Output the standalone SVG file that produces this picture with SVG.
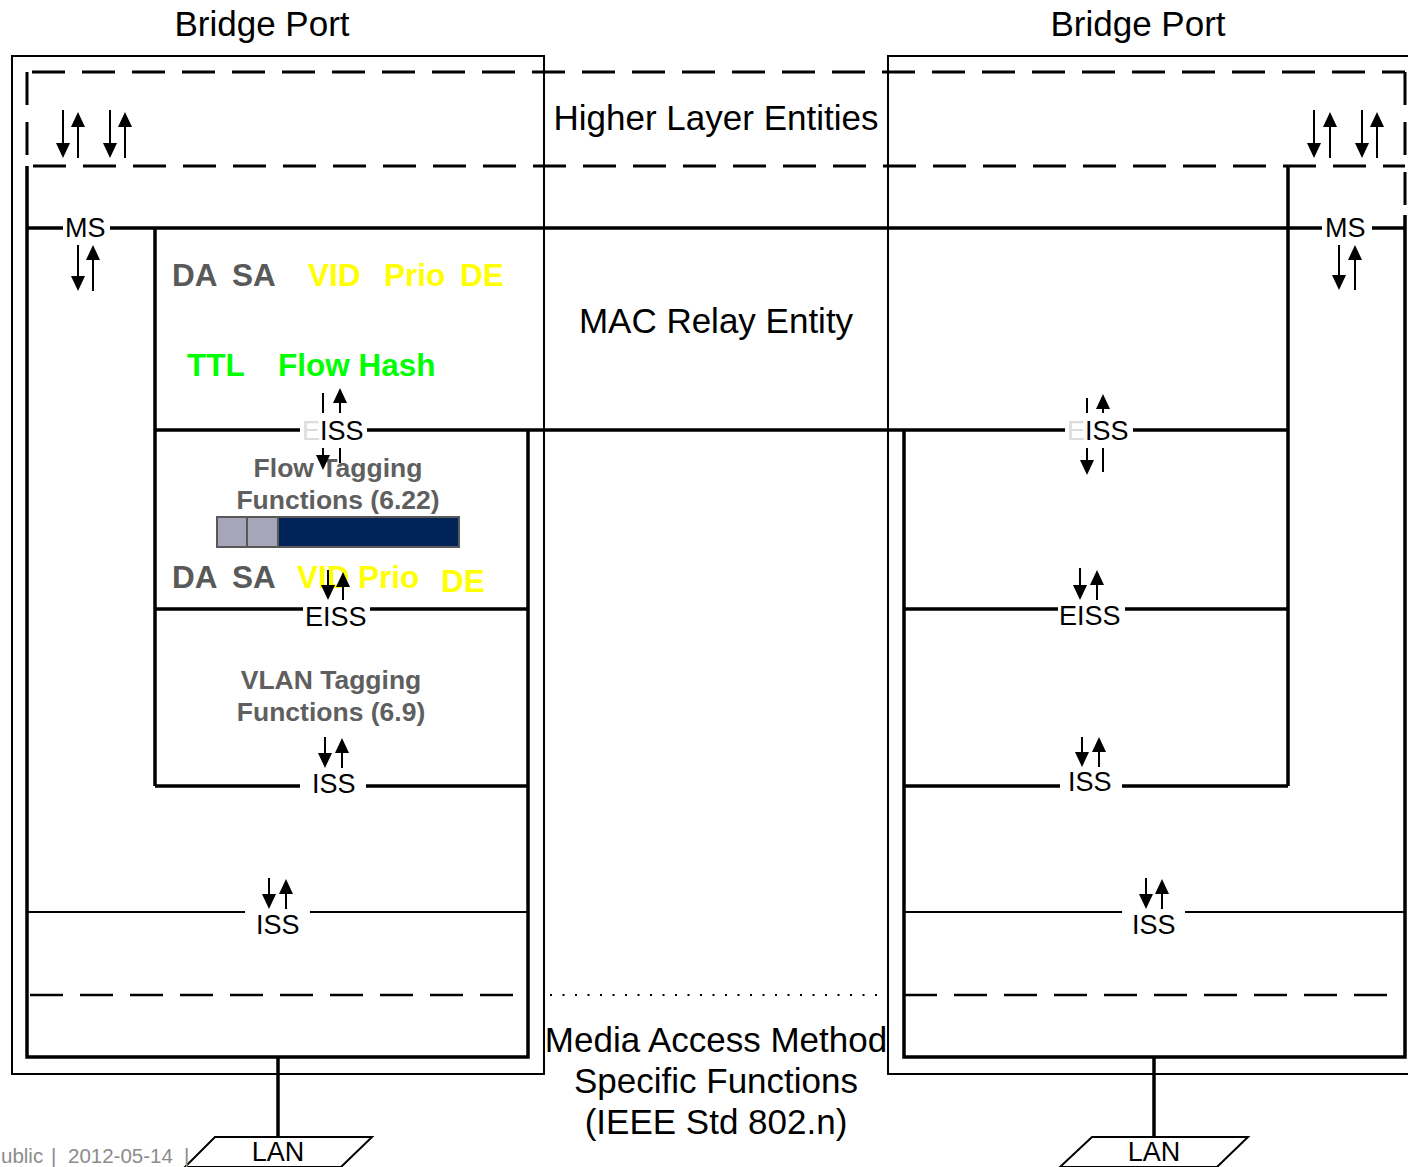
<svg xmlns="http://www.w3.org/2000/svg" width="1408" height="1167" viewBox="0 0 1408 1167">
<style>
text{font-family:"Liberation Sans",Arial,sans-serif}
.thin{fill:none;stroke:#000;stroke-width:2}
.thick{fill:none;stroke:#000;stroke-width:3.5}
.dash{fill:none;stroke:#000;stroke-width:3;stroke-dasharray:33 17}
.dash2{fill:none;stroke:#000;stroke-width:2.5;stroke-dasharray:33 17}
.dot{fill:none;stroke:#000;stroke-width:2;stroke-dasharray:2 10.5}
.arr{fill:none;stroke:#000;stroke-width:2}
.ah{stroke:none;fill:#000}
.big{font-size:35px}
.mid{font-size:35px}
.lbl{font-size:27px}
.hdr{font-size:31.5px;font-weight:bold}
.fn{font-size:26.5px;font-weight:bold;fill:#5f5f5f}
.gray{fill:#595959}
.yel{fill:#ffff00}
.grn{fill:#00ff00}
.ghost{fill:#dcdcdc}
.foot{fill:#8c8c8c;font-size:20.5px}
</style>
<defs>
<marker id="ah" viewBox="0 0 15 14" refX="5" refY="7" markerWidth="15" markerHeight="14" markerUnits="userSpaceOnUse" orient="auto">
<path class="ah" d="M0,0 L15,7 L0,14 z"/>
</marker>
</defs>

<g id="left-bridge-port">
<rect class="thin" x="12" y="56" width="532" height="1018"/>
<text class="big" x="262" y="36" text-anchor="middle">Bridge Port</text>
</g>
<g id="right-bridge-port">
<path class="thin" d="M1412,56 H888 V1074 H1412"/>
<text class="big" x="1138" y="36" text-anchor="middle">Bridge Port</text>
</g>

<g id="higher-layer-entities">
<path class="dash" d="M27,72 H1405" style="stroke-dashoffset:45"/>
<path class="dash" d="M27,166 H1405" style="stroke-dashoffset:44"/>
<path class="dash" d="M27,72 V166"/>
<path class="dash" d="M1405,72 V215"/>
<text class="big" x="716" y="130" text-anchor="middle">Higher Layer Entities</text>
</g>

<g id="mac-relay-entity">
<text class="big" x="716" y="333" text-anchor="middle">MAC Relay Entity</text>
</g>

<g id="media-access-method">
<path class="dash2" d="M27,995 H528" style="stroke-dashoffset:47"/>
<path class="dash2" d="M904,995 H1405"/>
<path class="dot" d="M550,995 H886"/>
<text class="mid" x="716" y="1052" text-anchor="middle">Media Access Method</text>
<text class="mid" x="716" y="1093" text-anchor="middle">Specific Functions</text>
<text class="mid" x="716" y="1134" text-anchor="middle">(IEEE Std 802.n)</text>
</g>

<g id="connectors">
<path class="thick" d="M27,166 V1057 H528 V430"/>
<path class="thick" d="M155,228 V786"/>
<path class="thick" d="M27,228 H63 M110,228 H1322 M1372,228 H1405"/>
<path class="thick" d="M155,430 H300 M367,430 H1065 M1133,430 H1288"/>
<path class="thick" d="M155,609 H303 M370,609 H528"/>
<path class="thick" d="M155,786 H300 M366,786 H528"/>
<path class="thin" d="M27,912 H245 M310,912 H528"/>
<path class="thick" d="M278,1057 V1136"/>
<path class="thick" d="M904,430 V1057 H1405 V215"/>
<path class="thick" d="M1288,166 V786"/>
<path class="thick" d="M904,609 H1058 M1125,609 H1288"/>
<path class="thick" d="M904,786 H1060 M1122,786 H1288"/>
<path class="thin" d="M904,912 H1122 M1185,912 H1405"/>
<path class="thick" d="M1154,1057 V1136"/>
</g>

<g id="frame-upper">
<text class="hdr gray" x="172" y="286">DA</text>
<text class="hdr gray" x="232" y="286">SA</text>
<text class="hdr yel" x="308" y="286">VID</text>
<text class="hdr yel" x="384" y="286">Prio</text>
<text class="hdr yel" x="460" y="286">DE</text>
<text class="hdr grn" x="187" y="376">TTL</text>
<text class="hdr grn" x="278" y="376">Flow Hash</text>
</g>

<g id="flow-tagging">
<text class="fn" x="338" y="477" text-anchor="middle">Flow Tagging</text>
<text class="fn" x="338" y="509" text-anchor="middle">Functions (6.22)</text>
<rect x="217" y="517" width="242" height="30" fill="#002458" stroke="#595959" stroke-width="2"/>
<rect x="217" y="517" width="30" height="30" fill="#a6a6b8" stroke="#595959" stroke-width="2"/>
<rect x="247" y="517" width="31" height="30" fill="#a6a6b8" stroke="#595959" stroke-width="2"/>
</g>

<g id="frame-lower">
<text class="hdr gray" x="172" y="588">DA</text>
<text class="hdr gray" x="232" y="588">SA</text>
<text class="hdr yel" x="297" y="588">VID</text>
<text class="hdr yel" x="358" y="588">Prio</text>
<text class="hdr yel" x="441" y="592">DE</text>
</g>

<g id="vlan-tagging">
<text class="fn" x="331" y="689" text-anchor="middle">VLAN Tagging</text>
<text class="fn" x="331" y="721" text-anchor="middle">Functions (6.9)</text>
</g>

<g id="labels">
<text class="lbl" x="65" y="237">MS</text>
<text class="lbl" x="1325" y="237">MS</text>
<text class="lbl" x="302" y="440"><tspan class="ghost">E</tspan>ISS</text>
<text class="lbl" x="1067" y="440"><tspan class="ghost">E</tspan>ISS</text>
<text class="lbl" x="305" y="626">EISS</text>
<text class="lbl" x="1059" y="625">EISS</text>
<text class="lbl" x="312" y="793">ISS</text>
<text class="lbl" x="1068" y="791">ISS</text>
<text class="lbl" x="256" y="934">ISS</text>
<text class="lbl" x="1132" y="934">ISS</text>
</g>

<g id="arrows">
<path class="arr" marker-end="url(#ah)" d="M63,110 V148"/>
<path class="arr" marker-end="url(#ah)" d="M78,158 V122"/>
<path class="arr" marker-end="url(#ah)" d="M110,110 V148"/>
<path class="arr" marker-end="url(#ah)" d="M125,158 V122"/>
<path class="arr" marker-end="url(#ah)" d="M1314,110 V148"/>
<path class="arr" marker-end="url(#ah)" d="M1330,158 V122"/>
<path class="arr" marker-end="url(#ah)" d="M1362,110 V148"/>
<path class="arr" marker-end="url(#ah)" d="M1377,158 V122"/>
<path class="arr" marker-end="url(#ah)" d="M78,245 V281"/>
<path class="arr" marker-end="url(#ah)" d="M93,291 V255"/>
<path class="arr" marker-end="url(#ah)" d="M1339,245 V280"/>
<path class="arr" marker-end="url(#ah)" d="M1355,290 V255"/>
<path class="arr" d="M323,393 V413"/>
<path class="arr" marker-end="url(#ah)" d="M340,413 V398"/>
<path class="arr" marker-end="url(#ah)" d="M323,448 V460"/>
<path class="arr" d="M340,448 V463"/>
<path class="arr" d="M1087,398 V413"/>
<path class="arr" marker-end="url(#ah)" d="M1103,413 V404"/>
<path class="arr" marker-end="url(#ah)" d="M1087,448 V465"/>
<path class="arr" d="M1103,448 V472"/>
<path class="arr" marker-end="url(#ah)" d="M328,570 V590"/>
<path class="arr" marker-end="url(#ah)" d="M343,600 V582"/>
<path class="arr" marker-end="url(#ah)" d="M1080,568 V590"/>
<path class="arr" marker-end="url(#ah)" d="M1097,600 V580"/>
<path class="arr" marker-end="url(#ah)" d="M325,737 V758"/>
<path class="arr" marker-end="url(#ah)" d="M342,768 V748"/>
<path class="arr" marker-end="url(#ah)" d="M1082,737 V757"/>
<path class="arr" marker-end="url(#ah)" d="M1099,767 V747"/>
<path class="arr" marker-end="url(#ah)" d="M269,878 V899"/>
<path class="arr" marker-end="url(#ah)" d="M286,909 V889"/>
<path class="arr" marker-end="url(#ah)" d="M1146,878 V899"/>
<path class="arr" marker-end="url(#ah)" d="M1162,909 V889"/>
</g>

<g id="lan-left">
<path class="thin" d="M215,1137 H372 L341,1167 H185 Z" fill="#fff"/>
<text class="lbl" x="278" y="1161" text-anchor="middle">LAN</text>
</g>
<g id="lan-right">
<path class="thin" d="M1092,1137 H1248 L1217,1167 H1060 Z" fill="#fff"/>
<text class="lbl" x="1154" y="1161" text-anchor="middle">LAN</text>
</g>

<g id="footer">
<text class="foot" x="1" y="1163">ublic</text>
<text class="foot" x="51" y="1163">|</text>
<text class="foot" x="68" y="1163">2012-05-14</text>
<text class="foot" x="184" y="1163">|</text>
</g>
</svg>
